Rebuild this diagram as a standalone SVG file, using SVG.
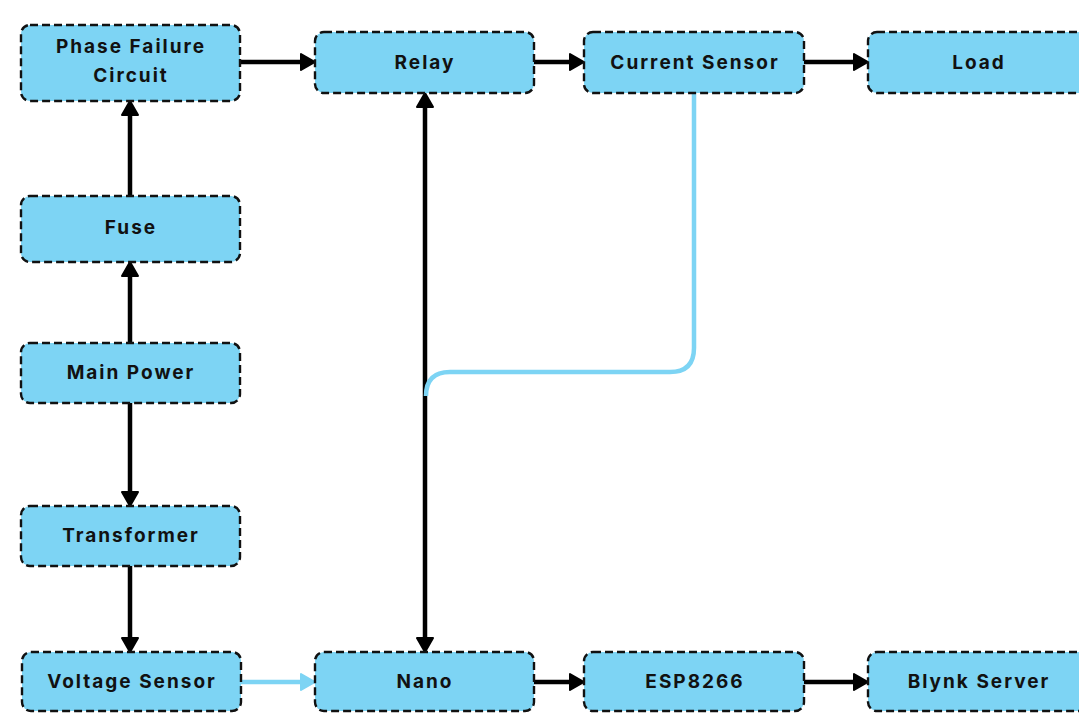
<svg xmlns="http://www.w3.org/2000/svg" width="1079" height="715" viewBox="0 0 1079 715">
  <style>
    .box { fill: #7dd4f4; stroke: #111; stroke-width: 2.4; stroke-dasharray: 8 4; }
    .lbl { font-family: Inter, "Liberation Sans", sans-serif; font-weight: 700; font-size: 19px; letter-spacing: 2px; fill: #111; text-anchor: middle; }
    .wire { fill: none; stroke: #000; stroke-width: 4.5; }
    .wire-blue { fill: none; stroke: #7dd4f4; stroke-width: 4.5; }
  </style>
  <defs>
    <marker id="arrow" viewBox="0 0 16 18" refX="9" refY="9" markerWidth="16" markerHeight="18" markerUnits="userSpaceOnUse" orient="auto-start-reverse">
      <path d="M1,1 L15,9 L1,17 z" fill="#000" stroke="#000" stroke-width="2" stroke-linejoin="round"/>
    </marker>
    <marker id="arrow-blue" viewBox="0 0 16 18" refX="9" refY="9" markerWidth="16" markerHeight="18" markerUnits="userSpaceOnUse" orient="auto-start-reverse">
      <path d="M1,1 L15,9 L1,17 z" fill="#7dd4f4" stroke="#7dd4f4" stroke-width="2" stroke-linejoin="round"/>
    </marker>
  </defs>
  <rect width="1079" height="715" fill="#fff"/>

  <g id="connectors">
    <path class="wire" d="M240,62 H309" marker-end="url(#arrow)"/>
    <path class="wire" d="M534,62 H578" marker-end="url(#arrow)"/>
    <path class="wire" d="M804,62 H862" marker-end="url(#arrow)"/>
    <path class="wire" d="M130,196 V107" marker-end="url(#arrow)"/>
    <path class="wire" d="M130,343 V268" marker-end="url(#arrow)"/>
    <path class="wire" d="M130,403 V500" marker-end="url(#arrow)"/>
    <path class="wire" d="M130,566 V646" marker-end="url(#arrow)"/>
    <path class="wire" d="M425,99 V646" marker-start="url(#arrow)" marker-end="url(#arrow)"/>
    <path class="wire" d="M534,682 H578" marker-end="url(#arrow)"/>
    <path class="wire" d="M804,682 H862" marker-end="url(#arrow)"/>
    <path class="wire-blue" d="M241,682 H309" marker-end="url(#arrow-blue)"/>
    <path class="wire-blue" d="M694,93 V348 Q694,372 670,372 H450 Q426,372 426,396"/>
  </g>

  <g id="phase-failure">
    <rect class="box" x="21" y="25" width="219" height="76" rx="9"/>
    <text class="lbl" x="131" y="53">Phase Failure</text>
    <text class="lbl" x="131" y="82">Circuit</text>
  </g>
  <g id="relay">
    <rect class="box" x="315" y="32" width="219" height="61" rx="9"/>
    <text class="lbl" x="425" y="68.5">Relay</text>
  </g>
  <g id="current-sensor">
    <rect class="box" x="584" y="32" width="220" height="61" rx="9"/>
    <text class="lbl" x="695" y="68.5">Current Sensor</text>
  </g>
  <g id="load">
    <rect class="box" x="868" y="32" width="220" height="61" rx="9"/>
    <text class="lbl" x="979" y="68.5">Load</text>
  </g>
  <g id="fuse">
    <rect class="box" x="21" y="196" width="219" height="66" rx="9"/>
    <text class="lbl" x="131" y="234">Fuse</text>
  </g>
  <g id="main-power">
    <rect class="box" x="21" y="343" width="219" height="60" rx="9"/>
    <text class="lbl" x="131" y="378.5">Main Power</text>
  </g>
  <g id="transformer">
    <rect class="box" x="21" y="506" width="219" height="60" rx="9"/>
    <text class="lbl" x="131" y="541.5">Transformer</text>
  </g>
  <g id="voltage-sensor">
    <rect class="box" x="22" y="652" width="219" height="59" rx="9"/>
    <text class="lbl" x="132" y="688">Voltage Sensor</text>
  </g>
  <g id="nano">
    <rect class="box" x="315" y="652" width="219" height="59" rx="9"/>
    <text class="lbl" x="425" y="688">Nano</text>
  </g>
  <g id="esp8266">
    <rect class="box" x="584" y="652" width="220" height="59" rx="9"/>
    <text class="lbl" x="695" y="688">ESP8266</text>
  </g>
  <g id="blynk-server">
    <rect class="box" x="868" y="652" width="220" height="59" rx="9"/>
    <text class="lbl" x="979" y="688">Blynk Server</text>
  </g>
</svg>
